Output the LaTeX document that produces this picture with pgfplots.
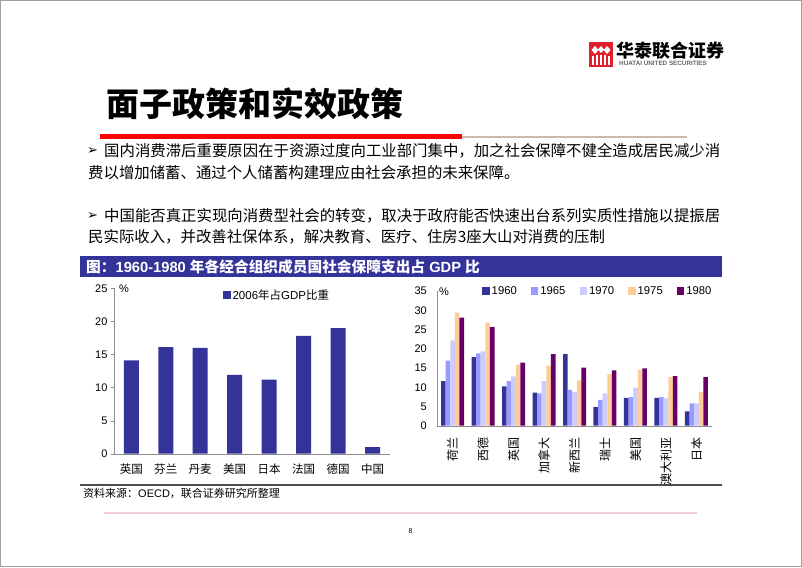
\documentclass[border=0pt]{standalone}
\usepackage{pgfplots}
\pgfplotsset{compat=1.18}
\usepackage{fontspec}
\setmainfont{Liberation Sans}
\newfontfamily\cjk{Noto Sans CJK SC}
\newfontfamily\dejavu{DejaVu Sans}
\definecolor{c60}{HTML}{333399}
\definecolor{c65}{HTML}{9999FF}
\definecolor{c70}{HTML}{CCCCFF}
\definecolor{c75}{HTML}{FFCC99}
\definecolor{c80}{HTML}{660066}
\definecolor{banner}{HTML}{333399}
\definecolor{axgray}{HTML}{8C8C8C}
\definecolor{logored}{HTML}{E0202A}
\definecolor{tanline}{HTML}{CDB8AC}
\definecolor{pinkline}{HTML}{F4CCD6}
\newcommand\fs[1]{\fontsize{#1}{#1}\selectfont}
\pgfplotsset{
  every axis/.append style={
    /pgf/number format/assume math mode=true,
    axis line style={axgray},
    tick align=outside,
    major tick length=3pt,
    minor tick length=3pt,
    tick style={axgray},
  }
}
\begin{document}
\begin{tikzpicture}
\useasboundingbox (0,0) rectangle (802pt,-567pt);
\begin{scope}[x=1pt,y=-1pt]
\draw[gray!75, line width=1.2pt] (0.6,0.6) rectangle (801.4,566.4);
% logo
\fill[logored] (589,42) rectangle (613,67);
\fill[white] (595,46) -- (598.5,50) -- (595,54) -- (591.5,50) -- cycle;
\fill[white] (607,46) -- (610.5,50) -- (607,54) -- (603.5,50) -- cycle;
\fill[white] (601,46) -- (604,49.5) -- (601,53) -- (598,49.5) -- cycle;
\draw[white, line width=1.2pt] (593,56) -- (593,65) (597,55) -- (597,65) (601,55) -- (601,65) (605,55) -- (605,65) (609,56) -- (609,65);
\node[anchor=west, inner sep=0pt] at (616.5,50.5) {\cjk\bfseries\fs{18}华泰联合证券};
\node[anchor=west, inner sep=0pt, text=gray!80!black] at (619,63.5) {\bfseries\fs{6.3}HUATAI UNITED SECURITIES};
% title
\node[anchor=west, inner sep=0pt] at (106,104) {\cjk\bfseries\fs{33}面子政策和实效政策};
% lines
\draw[tanline, line width=2pt] (462,137) -- (687,137);
\draw[red, line width=5pt] (100,136) -- (462,136);
% bullets
\node[anchor=west, inner sep=0pt] at (87,151) {\dejavu\fs{13}➢};
\node[anchor=west, inner sep=0pt] at (104,151) {\cjk\fs{15.4}国内消费滞后重要原因在于资源过度向工业部门集中，加之社会保障不健全造成居民减少消};
\node[anchor=west, inner sep=0pt] at (88,173) {\cjk\fs{15.4}费以增加储蓄、通过个人储蓄构建理应由社会承担的未来保障。};
\node[anchor=west, inner sep=0pt] at (87,216) {\dejavu\fs{13}➢};
\node[anchor=west, inner sep=0pt] at (104,216) {\cjk\fs{15.4}中国能否真正实现向消费型社会的转变，取决于政府能否快速出台系列实质性措施以提振居};
\node[anchor=west, inner sep=0pt] at (88,237) {\cjk\fs{15.4}民实际收入，并改善社保体系，解决教育、医疗、住房3座大山对消费的压制};
% banner
\fill[banner] (80,256) rectangle (722,277);
\node[anchor=west, inner sep=0pt, text=white] at (86,266.5) {\fs{14.7}\bfseries{\cjk 图：}1960-1980 {\cjk 年各经合组织成员国社会保障支出占} GDP {\cjk 比}};
% bottom
\draw[gray!60!black, line width=1.3pt] (80,485) -- (722,485);
\node[anchor=west, inner sep=0pt] at (83,493) {\fs{11}{\cjk 资料来源：}OECD{\cjk ，联合证券研究所整理}};
\draw[pinkline, line width=2.5pt] (104,513) -- (697,513);
\node[inner sep=0pt] at (410.5,531.5) {\fs{7}8};
% percent signs
\node[anchor=west, inner sep=0pt] at (119,289) {\fs{11}\%};
\node[anchor=west, inner sep=0pt] at (439,292) {\fs{11}\%};
\end{scope}

% ---------- left chart ----------
\begin{axis}[
  at={(114pt,-453.7pt)}, anchor=south west,
  scale only axis, width=276pt, height=165.4pt,
  xmin=-0.5, xmax=7.5, ymin=0, ymax=25,
  ytick={0,5,...,25},
  xtick={0,...,7},
  xticklabels={英国,芬兰,丹麦,美国,日本,法国,德国,中国},
  xtick style={draw=none},
  minor xtick={0.5,1.5,...,7.5},
  axis x line*=bottom, axis y line*=left,
  ticklabel style={font=\fs{11}},
  xticklabel style={font=\cjk\fs{11.5}, yshift=-4pt},
  ybar, bar width=15pt,
  legend style={at={(0.59,0.96)}, anchor=center, draw=none, fill=none, font=\fs{11.5}},
  legend image code/.code={\fill[#1] (0pt,-4pt) rectangle (8pt,4pt);},
]
\addplot[fill=c60, draw=none] coordinates {(0,14.1) (1,16.1) (2,16.0) (3,11.9) (4,11.2) (5,17.8) (6,19.0) (7,1.0)};
\legend{2006{\cjk 年占}GDP{\cjk 比重}}
\end{axis}

% ---------- right chart ----------
\begin{axis}[
  at={(437.3pt,-425.7pt)}, anchor=south west,
  scale only axis, width=274.4pt, height=134.7pt,
  xmin=-0.5, xmax=8.5, ymin=0, ymax=35,
  ytick={0,5,...,35},
  ytick style={draw=none},
  xtick={0,...,8},
  xticklabels={荷兰,西德,英国,加拿大,新西兰,瑞士,美国,澳大利亚,日本},
  xtick style={draw=none},
  minor xtick={0.5,1.5,...,8.5},
  axis x line*=bottom, axis y line*=left,
  ticklabel style={font=\fs{11}},
  yticklabel style={xshift=-4pt},
  xticklabel shift=5pt,
  xticklabel style={font=\cjk\fs{12}, rotate=90, anchor=east},
  ybar=0pt, bar width=4.6pt,
  legend columns=5,
  legend style={at={(0.585,1.0)}, anchor=center, draw=none, fill=none, font=\fs{11.3},
    /tikz/every even column/.append style={column sep=12pt}},
  legend image code/.code={\fill[#1] (0pt,-4pt) rectangle (7.5pt,4pt);},
]
\addplot[fill=c60, draw=none] coordinates {(0,11.6) (1,17.8) (2,10.2) (3,8.6) (4,18.6) (5,4.8) (6,7.2) (7,7.2) (8,3.7)};
\addplot[fill=c65, draw=none] coordinates {(0,16.9) (1,18.8) (2,11.6) (3,8.4) (4,9.3) (5,6.7) (6,7.4) (7,7.4) (8,5.8)};
\addplot[fill=c70, draw=none] coordinates {(0,22.2) (1,19.3) (2,12.8) (3,11.6) (4,8.7) (5,8.4) (6,9.9) (7,7.1) (8,5.8)};
\addplot[fill=c75, draw=none] coordinates {(0,29.4) (1,26.8) (2,15.9) (3,15.6) (4,11.8) (5,13.4) (6,14.6) (7,12.6) (8,8.7)};
\addplot[fill=c80, draw=none] coordinates {(0,28.1) (1,25.6) (2,16.4) (3,18.6) (4,15.1) (5,14.4) (6,14.9) (7,12.9) (8,12.6)};
\legend{1960,1965,1970,1975,1980}
\end{axis}
\end{tikzpicture}
\end{document}
